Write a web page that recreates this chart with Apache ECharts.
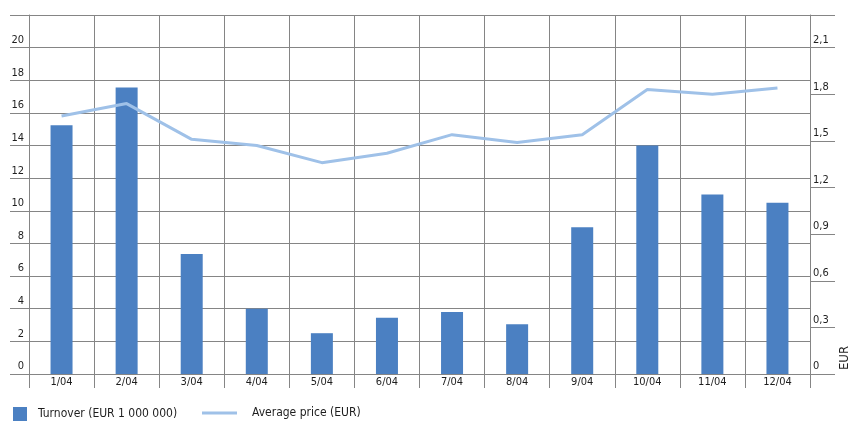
<!DOCTYPE html>
<html>
<head>
<meta charset="utf-8">
<script src="https://cdn.jsdelivr.net/npm/echarts@6/dist/echarts.min.js"></script>
<style>
  html, body { margin: 0; padding: 0; background: #fff; }
  #chart { width: 850px; height: 423px; }
</style>
</head>
<body>
<div id="chart"></div>
<script>
// Monthly turnover (millions of EUR) and average share price (EUR)
const months = ['1/04', '2/04', '3/04', '4/04', '5/04', '6/04', '7/04', '8/04', '9/04', '10/04', '11/04', '12/04'];
const turnover = [15.25, 17.55, 7.35, 4.0, 2.5, 3.45, 3.8, 3.05, 9.0, 14.0, 11.0, 10.5];
const avgPrice = [1.66, 1.74, 1.51, 1.47, 1.36, 1.42, 1.54, 1.49, 1.54, 1.83, 1.80, 1.84];
const turnoverTicks = [0, 2, 4, 6, 8, 10, 12, 14, 16, 18, 20];
const priceTicks = [0, 0.3, 0.6, 0.9, 1.2, 1.5, 1.8, 2.1];

const FONT = "'DejaVu Sans Condensed', 'Liberation Sans Narrow', sans-serif";
const GRID = '#858585';
const TEXT = '#1e1e1e';
const BAR = '#4b80c2';
const LINE = '#9fc1e8';

const chart = echarts.init(document.getElementById('chart'), null, { renderer: 'canvas' });

chart.setOption({
  animation: false,
  backgroundColor: '#fff',
  textStyle: { fontFamily: FONT, color: TEXT },
  grid: { left: 29, right: 40, top: 15, bottom: 49, containLabel: false },
  legend: [
    {
      data: ['Turnover (EUR 1 000 000)'],
      left: 13, top: 407, padding: 0,
      itemWidth: 14, itemHeight: 14,
      icon: 'rect',
      textStyle: { fontFamily: FONT, fontSize: 12, color: TEXT, padding: [0, 0, 0, 6] }
    },
    {
      data: ['Average price (EUR)'],
      left: 202, top: 407, padding: 0,
      itemWidth: 35, itemHeight: 3,
      icon: 'rect',
      textStyle: { fontFamily: FONT, fontSize: 12, color: TEXT, padding: [0, 0, 0, 10] }
    }
  ],
  xAxis: {
    type: 'category',
    data: months,
    boundaryGap: true,
    axisLine: { lineStyle: { color: GRID, width: 1 } },
    axisTick: { show: true, length: 14, interval: 0, lineStyle: { color: GRID } },
    splitLine: { show: true, interval: 0, lineStyle: { color: GRID, width: 1 } },
    axisLabel: { interval: 0, margin: 3, fontFamily: FONT, fontSize: 11, color: TEXT }
  },
  yAxis: [
    {
      type: 'value',
      min: 0, max: 22, interval: 2,
      axisLine: { show: true, lineStyle: { color: GRID } },
      axisTick: { show: true, length: 19, lineStyle: { color: GRID } },
      splitLine: { show: true, lineStyle: { color: GRID, width: 1 } },
      axisLabel: {
        customValues: turnoverTicks,
        margin: 5,
        fontFamily: FONT, fontSize: 11, color: TEXT,
        verticalAlign: 'bottom',
        padding: [0, 0, 2, 0]
      }
    },
    {
      type: 'value',
      position: 'right',
      min: 0, max: 2.31, interval: 0.3,
      axisLine: { show: true, lineStyle: { color: GRID } },
      axisTick: { show: true, length: 25, customValues: priceTicks.concat([2.31]), lineStyle: { color: GRID } },
      splitLine: { show: false },
      axisLabel: {
        customValues: priceTicks,
        margin: 3,
        fontFamily: FONT, fontSize: 11, color: TEXT,
        align: 'left',
        verticalAlign: 'bottom',
        padding: [0, 0, 2, 0],
        formatter: v => (Math.round(v * 10) / 10).toString().replace('.', ',')
      }
    }
  ],
  series: [
    {
      name: 'Turnover (EUR 1 000 000)',
      type: 'bar',
      yAxisIndex: 0,
      data: turnover,
      barWidth: 22,
      itemStyle: { color: BAR }
    },
    {
      name: 'Average price (EUR)',
      type: 'line',
      yAxisIndex: 1,
      data: avgPrice,
      showSymbol: false,
      symbol: 'none',
      lineStyle: { color: LINE, width: 3 },
      itemStyle: { color: LINE },
      z: 3
    }
  ],
  graphic: [
    {
      type: 'text',
      x: 845, y: 358,
      rotation: Math.PI / 2,
      style: {
        text: 'EUR',
        fontFamily: FONT, fontSize: 13,
        fill: TEXT,
        align: 'center',
        verticalAlign: 'middle'
      }
    }
  ]
});
</script>
</body>
</html>
